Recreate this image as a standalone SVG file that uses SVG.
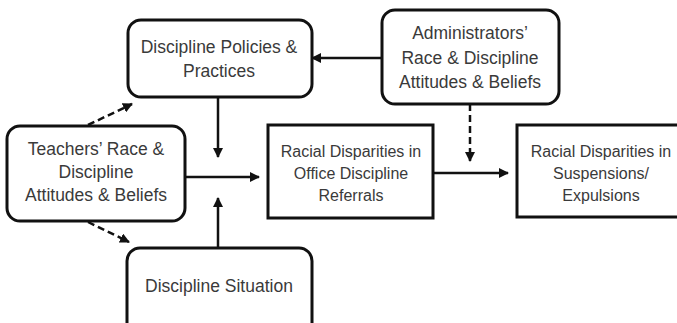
<svg xmlns="http://www.w3.org/2000/svg" width="677" height="323" viewBox="0 0 677 323">
<style>
.box{fill:#fff;stroke:#111;stroke-width:3}
.t{font-family:"Liberation Sans",Arial,sans-serif;font-size:17.5px;fill:#3a3a3a;text-anchor:middle}
.s{font-size:16px}
.c{fill:none;stroke:#111;stroke-width:2.5}
.d{stroke-dasharray:7 4}
</style>
<defs>
<marker id="ah" viewBox="0 0 10 10" refX="9" refY="5" markerWidth="4" markerHeight="4" orient="auto" markerUnits="strokeWidth">
<path d="M0,0 L10,5 L0,10 z" fill="#111"/>
</marker>
</defs>
<rect width="677" height="323" fill="#fff"/>
<g id="connectors">
<line class="c" x1="382" y1="58" x2="312" y2="58" marker-end="url(#ah)"/>
<line class="c" x1="218" y1="97" x2="218" y2="157" marker-end="url(#ah)"/>
<line class="c" x1="185" y1="177" x2="259" y2="177" marker-end="url(#ah)"/>
<line class="c" x1="218" y1="248" x2="218" y2="198" marker-end="url(#ah)"/>
<line class="c d" x1="470" y1="104" x2="470" y2="161" marker-end="url(#ah)"/>
<line class="c" x1="434" y1="173" x2="508" y2="173" marker-end="url(#ah)"/>
<line class="c d" x1="88" y1="125" x2="132" y2="104" marker-end="url(#ah)"/>
<line class="c d" x1="88" y1="222" x2="129" y2="242" marker-end="url(#ah)"/>
</g>
<g id="policies">
<rect class="box" x="128" y="20" width="184" height="77" rx="13"/>
<text class="t" x="219" y="53">Discipline Policies &amp;</text>
<text class="t" x="219" y="77">Practices</text>
</g>
<g id="administrators">
<rect class="box" x="382" y="10" width="177" height="94" rx="13"/>
<text class="t" x="470" y="39">Administrators’</text>
<text class="t" x="470" y="64">Race &amp; Discipline</text>
<text class="t" x="470" y="88">Attitudes &amp; Beliefs</text>
</g>
<g id="teachers">
<rect class="box" x="7" y="126" width="178" height="95" rx="13"/>
<text class="t" x="96" y="155">Teachers’ Race &amp;</text>
<text class="t" x="96" y="178">Discipline</text>
<text class="t" x="96" y="201">Attitudes &amp; Beliefs</text>
</g>
<g id="referrals">
<rect class="box" x="268" y="125" width="165" height="93"/>
<text class="t s" x="351" y="157">Racial Disparities in</text>
<text class="t s" x="351" y="179">Office Discipline</text>
<text class="t s" x="351" y="201">Referrals</text>
</g>
<g id="suspensions">
<rect class="box" x="517" y="125" width="180" height="92"/>
<text class="t s" x="601" y="157">Racial Disparities in</text>
<text class="t s" x="601" y="179">Suspensions/</text>
<text class="t s" x="601" y="201">Expulsions</text>
</g>
<g id="situation">
<rect class="box" x="127" y="248" width="185" height="95" rx="13"/>
<text class="t" x="219" y="292">Discipline Situation</text>
</g>
</svg>
